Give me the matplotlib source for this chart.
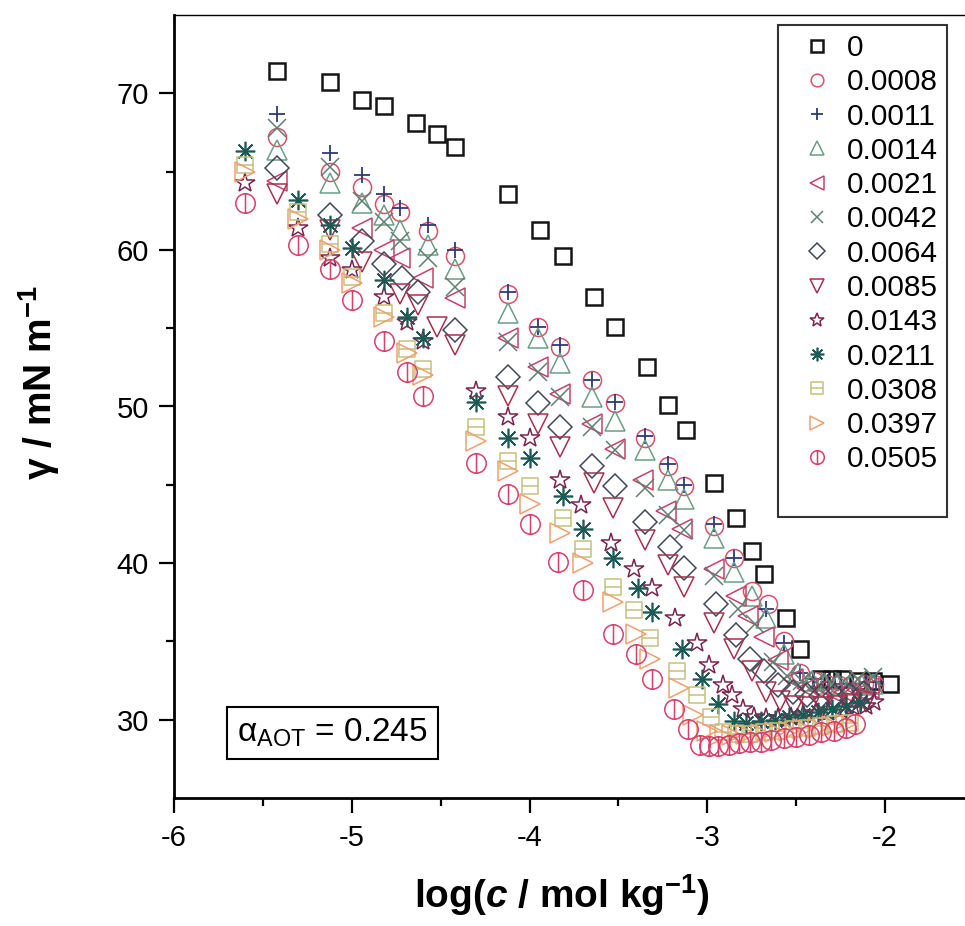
import numpy as np
import matplotlib
matplotlib.use("Agg")
import matplotlib.pyplot as plt
from matplotlib.path import Path
from matplotlib.lines import Line2D

plt.rcParams['font.family'] = ['Liberation Sans', 'DejaVu Sans']
plt.rcParams['mathtext.fontset'] = 'custom'
plt.rcParams['mathtext.rm'] = 'Liberation Sans'
plt.rcParams['mathtext.it'] = 'Liberation Sans:italic'
plt.rcParams['mathtext.bf'] = 'Liberation Sans:bold'
plt.rcParams['mathtext.bfit'] = 'Liberation Sans:italic:bold'

# ---------------- data (log c, gamma) ----------------
labels = ['0', '0.0008', '0.0011', '0.0014', '0.0021', '0.0042', '0.0064',
          '0.0085', '0.0143', '0.0211', '0.0308', '0.0397', '0.0505']

x_0 = [-5.42, -5.12, -4.94, -4.82, -4.64, -4.52, -4.42, -4.12, -3.94, -3.81, -3.64, -3.52, -3.34, -3.22,
       -3.12, -2.96, -2.84, -2.75, -2.68, -2.56, -2.48, -2.36, -2.30, -2.24, -2.14, -2.07, -1.97]
y_0 = [71.4, 70.7, 69.6, 69.2, 68.1, 67.4, 66.6, 63.6, 61.3, 59.6, 57.0, 55.1, 52.5, 50.1,
       48.5, 45.1, 42.9, 40.8, 39.3, 36.5, 34.5, 32.6, 32.6, 32.6, 32.5, 32.5, 32.3]

x_0008 = [-5.42, -5.12, -4.94, -4.82, -4.73, -4.57, -4.42, -4.12, -3.95, -3.83, -3.65, -3.52, -3.35, -3.22,
          -3.13, -2.96, -2.85, -2.75, -2.66, -2.57, -2.48, -2.40, -2.33, -2.26, -2.19, -2.12, -2.06]
y_0008 = [67.2, 65.0, 64.0, 62.9, 62.4, 61.2, 59.6, 57.2, 55.1, 53.8, 51.7, 50.2, 48.0, 46.2,
          44.9, 42.4, 40.3, 38.2, 37.4, 35.0, 33.0, 32.5, 32.3, 32.2, 32.2, 32.3, 32.3]

x_0011 = [-5.42, -5.12, -4.94, -4.82, -4.73, -4.57, -4.42, -4.12, -3.95, -3.83, -3.65, -3.52, -3.35, -3.22,
          -3.13, -2.96, -2.85, -2.67, -2.57, -2.48, -2.40, -2.32, -2.25, -2.18, -2.11, -2.05]
y_0011 = [68.7, 66.2, 64.8, 63.6, 62.7, 61.6, 60.0, 57.3, 55.1, 53.9, 51.7, 50.3, 48.1, 46.3,
          45.0, 42.5, 40.3, 37.1, 34.9, 33.0, 32.6, 32.4, 32.3, 32.3, 32.4, 32.4]

x_0014 = [-5.42, -5.12, -4.94, -4.82, -4.73, -4.57, -4.42, -4.12, -3.95, -3.83, -3.65, -3.52, -3.35, -3.22,
          -3.13, -2.96, -2.85, -2.75, -2.67, -2.57, -2.49, -2.41, -2.34, -2.27, -2.20, -2.13, -2.07]
y_0014 = [66.4, 64.3, 63.0, 62.2, 61.3, 60.3, 58.8, 56.0, 54.4, 52.8, 50.6, 49.1, 47.2, 45.3,
          44.1, 41.6, 39.4, 37.9, 36.5, 34.2, 33.0, 32.5, 32.3, 32.2, 32.2, 32.2, 32.3]

x_0021 = [-5.42, -4.94, -4.82, -4.73, -4.60, -4.42, -4.12, -3.95, -3.83, -3.65, -3.52, -3.36, -3.23,
          -3.14, -2.96, -2.84, -2.77, -2.68, -2.60, -2.52, -2.44, -2.37, -2.30, -2.23, -2.16, -2.09]
y_0021 = [64.4, 61.4, 60.0, 59.5, 58.2, 56.9, 54.4, 52.5, 50.8, 48.9, 47.3, 45.3, 43.3,
          42.2, 39.6, 37.9, 36.6, 35.3, 33.8, 32.6, 32.0, 31.9, 31.8, 31.8, 31.9, 32.0]

x_0042 = [-5.42, -5.12, -4.94, -4.82, -4.73, -4.57, -4.42, -4.12, -3.95, -3.83, -3.65, -3.52, -3.35,
          -3.22, -3.13, -2.96, -2.83, -2.73, -2.63, -2.55, -2.47, -2.39, -2.31, -2.23, -2.15, -2.07]
y_0042 = [67.8, 65.3, 63.1, 61.8, 60.6, 59.5, 57.6, 54.1, 52.2, 50.6, 48.7, 47.2, 44.8,
          43.1, 42.1, 39.2, 37.1, 36.1, 33.7, 32.8, 32.5, 32.4, 32.4, 32.5, 32.6, 32.7]

x_0064 = [-5.42, -5.12, -4.94, -4.82, -4.72, -4.63, -4.42, -4.12, -3.95, -3.83, -3.65, -3.52, -3.35,
          -3.21, -3.13, -2.95, -2.84, -2.76, -2.68, -2.60, -2.52, -2.44, -2.36, -2.28, -2.20, -2.12]
y_0064 = [65.2, 62.2, 60.6, 59.1, 58.2, 57.3, 54.9, 51.9, 50.2, 48.7, 46.2, 44.9, 42.6,
          41.0, 39.7, 37.4, 35.4, 33.9, 33.1, 32.2, 31.8, 31.6, 31.5, 31.5, 31.6, 31.7]

x_0085 = [-5.42, -5.12, -4.94, -4.73, -4.63, -4.52, -4.42, -4.12, -3.95, -3.83, -3.64, -3.53, -3.35,
          -3.22, -3.13, -2.96, -2.85, -2.75, -2.67, -2.59, -2.51, -2.43, -2.35, -2.27, -2.19, -2.11]
y_0085 = [63.6, 61.3, 59.2, 57.2, 56.5, 55.1, 53.9, 50.7, 48.9, 47.4, 45.1, 43.5, 41.5,
          39.9, 38.5, 36.2, 34.5, 33.1, 31.8, 31.2, 30.9, 30.8, 30.8, 30.9, 31.0, 31.1]

x_0143 = [-5.60, -5.30, -5.12, -5.00, -4.82, -4.69, -4.60, -4.30, -4.12, -4.00, -3.83, -3.71, -3.54, -3.41,
          -3.31, -3.18, -3.06, -2.99, -2.91, -2.86, -2.80, -2.74, -2.67, -2.60, -2.53, -2.46, -2.39,
          -2.32, -2.25, -2.18, -2.11, -2.06]
y_0143 = [64.3, 61.4, 59.5, 58.7, 57.0, 55.4, 54.2, 51.0, 49.3, 48.0, 45.3, 43.7, 41.3, 39.6,
          38.4, 36.5, 34.9, 33.5, 32.2, 31.6, 30.7, 30.2, 30.1, 30.1, 30.2, 30.3, 30.4,
          30.5, 30.6, 30.8, 30.9, 31.1]

x_0211 = [-5.60, -5.30, -5.12, -5.00, -4.82, -4.69, -4.60, -4.30, -4.12, -4.00, -3.81, -3.70, -3.53, -3.39,
          -3.31, -3.14, -3.03, -2.94, -2.85, -2.78, -2.70, -2.62, -2.54, -2.46, -2.38, -2.30, -2.22, -2.14]
y_0211 = [66.3, 63.2, 61.6, 60.1, 58.1, 55.7, 54.4, 50.3, 48.0, 46.7, 44.3, 42.2, 40.3, 38.4,
          36.9, 34.5, 32.6, 31.0, 29.9, 29.8, 29.9, 30.0, 30.2, 30.3, 30.5, 30.7, 30.9, 31.1]

x_0308 = [-5.60, -5.30, -5.12, -5.00, -4.82, -4.69, -4.60, -4.30, -4.12, -4.00, -3.81, -3.70, -3.53, -3.41,
          -3.32, -3.17, -3.06, -2.98, -2.91, -2.84, -2.76, -2.68, -2.60, -2.52, -2.44, -2.36, -2.28, -2.20]
y_0308 = [65.4, 62.4, 60.4, 58.3, 56.0, 53.7, 52.4, 48.7, 46.5, 44.9, 42.9, 40.9, 38.5, 37.0,
          35.2, 33.1, 31.6, 30.2, 29.2, 29.1, 29.1, 29.2, 29.3, 29.4, 29.5, 29.6, 29.7, 29.8]

x_0397 = [-5.60, -5.30, -5.12, -5.00, -4.82, -4.69, -4.60, -4.30, -4.12, -4.00, -3.83, -3.70, -3.53, -3.40,
          -3.32, -3.16, -3.08, -3.00, -2.93, -2.86, -2.78, -2.70, -2.62, -2.54, -2.46, -2.38, -2.30, -2.22]
y_0397 = [65.0, 62.0, 60.0, 57.9, 55.7, 53.4, 52.0, 47.8, 45.9, 43.8, 41.9, 40.0, 37.5, 35.5,
          33.9, 32.0, 30.3, 29.3, 29.0, 29.0, 29.1, 29.1, 29.2, 29.3, 29.4, 29.5, 29.6, 29.7]

x_0505 = [-5.60, -5.30, -5.12, -5.00, -4.82, -4.69, -4.60, -4.30, -4.12, -4.00, -3.84, -3.70, -3.53, -3.40,
          -3.31, -3.19, -3.11, -3.04, -2.99, -2.94, -2.88, -2.82, -2.76, -2.70, -2.64, -2.57, -2.50,
          -2.43, -2.36, -2.29, -2.22, -2.17]
y_0505 = [63.0, 60.3, 58.8, 56.8, 54.2, 52.2, 50.7, 46.4, 44.4, 42.5, 40.1, 38.3, 35.5, 34.2,
          32.6, 30.7, 29.4, 28.4, 28.3, 28.3, 28.4, 28.5, 28.6, 28.6, 28.7, 28.8, 28.9,
          29.0, 29.2, 29.3, 29.5, 29.7]

xs = [x_0, x_0008, x_0011, x_0014, x_0021, x_0042, x_0064, x_0085, x_0143, x_0211, x_0308, x_0397, x_0505]
ys = [y_0, y_0008, y_0011, y_0014, y_0021, y_0042, y_0064, y_0085, y_0143, y_0211, y_0308, y_0397, y_0505]

# ---------------- marker styles ----------------
circ = Path.unit_circle()
circbar = Path(np.concatenate([circ.vertices, [[0, -1], [0, 1]]]),
               np.concatenate([circ.codes, [Path.MOVETO, Path.LINETO]]))
sqline = Path([(-1, -1), (1, -1), (1, 1), (-1, 1), (-1, -1), (-1, 0), (1, 0)],
              [Path.MOVETO, Path.LINETO, Path.LINETO, Path.LINETO, Path.CLOSEPOLY,
               Path.MOVETO, Path.LINETO])

markers = ['s', 'o', '+', '^', '<', 'x', 'D', 'v', '*', (8, 2, 0), sqline, '>', circbar]
sizes = [12, 13, 12, 14, 14, 13, 12, 14, 15, 14, 12, 14, 14]
colors = ['#151515', '#d8506a', '#2e3a78', '#6a9e86', '#c8406a', '#5f7f70', '#404858',
          '#a8304e', '#7a2550', '#1e5a55', '#c8c07a', '#f0a070', '#d8406a']
lws = [1.8, 1.1, 1.3, 1.1, 1.1, 1.1, 1.1, 1.1, 1.1, 1.2, 1.1, 1.1, 1.1]

fig = plt.figure(figsize=(9.65, 9.26), dpi=100)
ax = fig.add_axes([174 / 965, 128 / 926, 800 / 965, 783 / 926])

handles = []
for x, y, m, s, c, lw, lab in zip(xs, ys, markers, sizes, colors, lws, labels):
    h, = ax.plot(x, y, linestyle='none', marker=m, markersize=s, markerfacecolor='none',
                 markeredgecolor=c, markeredgewidth=lw, label=lab)
    handles.append(h)

ax.set_xlim(-6, -1.5)
ax.set_ylim(25, 75)
ax.set_xticks([-6, -5, -4, -3, -2])
ax.set_xticklabels(['-6', '-5', '-4', '-3', '-2'])
ax.set_xticks(np.arange(-5.5, -1.5, 1.0), minor=True)
ax.set_yticks([30, 40, 50, 60, 70])
ax.set_yticks([35, 45, 55, 65], minor=True)
ax.tick_params(which='both', direction='out', width=1.6, labelsize=21)
ax.tick_params(which='major', length=11)
ax.tick_params(which='minor', length=5.5)
ax.tick_params(axis='x', pad=8)
ax.tick_params(axis='y', pad=7)
for sp in ['left', 'bottom']:
    ax.spines[sp].set_linewidth(2.0)
ax.spines['top'].set_linewidth(1.0)
ax.spines['right'].set_visible(False)

ax.set_xlabel('log($\\mathbfit{c}$ / mol kg$^{\\mathbf{-1}}$)', fontsize=28, fontweight='bold')
ax.set_ylabel('γ / mN m$^{\\mathbf{-1}}$', fontsize=28, fontweight='bold')
ax.xaxis.set_label_coords(0.485, -0.095)
ax.yaxis.set_label_coords(-0.14, 0.53)

ax.text(0.198, 0.083, '$\\mathrm{\\alpha}_{\\mathrm{AOT}}$ = 0.245', transform=ax.transAxes,
        fontsize=24, ha='center', va='center',
        bbox=dict(boxstyle='square,pad=0.3', facecolor='white', edgecolor='black', linewidth=1.5))

blank = Line2D([], [], linestyle='none', marker=None)
leg = ax.legend(handles + [blank], labels + [''], loc='upper left', bbox_to_anchor=(0.755, 0.987),
                fontsize=21.5, frameon=True, fancybox=False, markerscale=0.7, handlelength=2.0,
                handletextpad=0.0, labelspacing=0.21, borderpad=0.3, borderaxespad=0.0)
leg.get_frame().set_edgecolor('black')
leg.get_frame().set_linewidth(1.5)

fig.savefig('out.png', dpi=100)
